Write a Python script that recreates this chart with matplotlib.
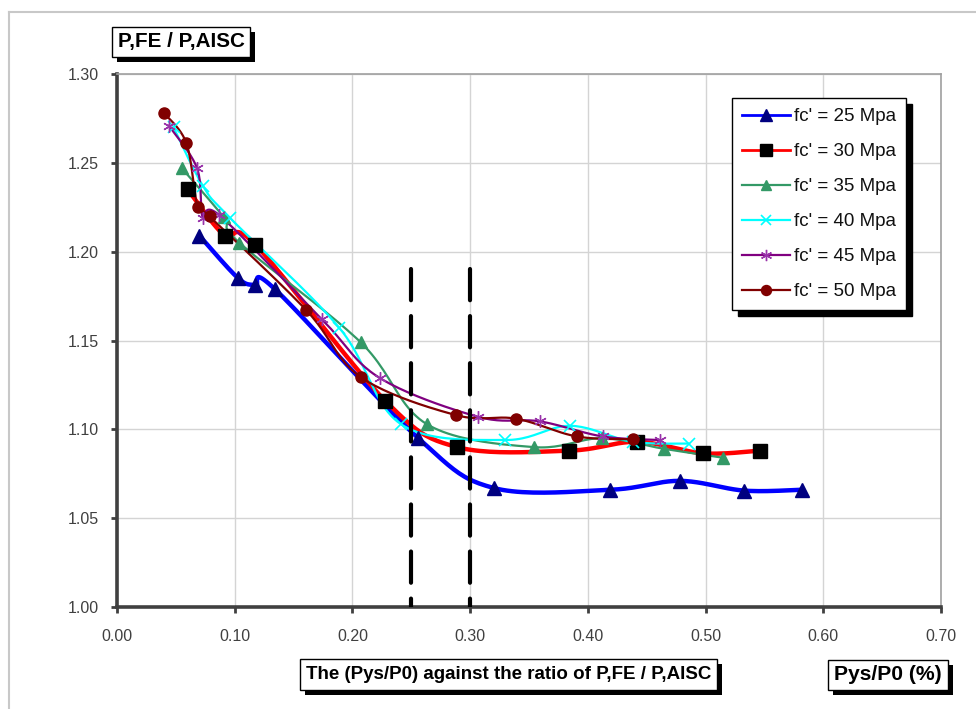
import numpy as np
import matplotlib
matplotlib.use("Agg")
import matplotlib.pyplot as plt
from matplotlib import font_manager
from matplotlib.lines import Line2D
from matplotlib.patches import Rectangle

# ---------------- data ----------------
x25 = [0.070, 0.103, 0.1175, 0.134, 0.256, 0.320, 0.419, 0.478, 0.533, 0.582]
y25 = [1.209, 1.185, 1.181, 1.179, 1.095, 1.067, 1.066, 1.071, 1.0655, 1.066]

x30 = [0.060, 0.0915, 0.1175, 0.228, 0.289, 0.384, 0.442, 0.498, 0.546]
y30 = [1.235, 1.209, 1.204, 1.116, 1.090, 1.088, 1.093, 1.0865, 1.088]

x35 = [0.055, 0.0905, 0.104, 0.207, 0.263, 0.354, 0.412, 0.465, 0.515]
y35 = [1.247, 1.2195, 1.205, 1.149, 1.103, 1.090, 1.095, 1.089, 1.084]

x40 = [0.048, 0.073, 0.096, 0.189, 0.241, 0.330, 0.385, 0.438, 0.486]
y40 = [1.270, 1.237, 1.219, 1.157, 1.103, 1.094, 1.102, 1.093, 1.092]

x45 = [0.044, 0.068, 0.073, 0.087, 0.174, 0.223, 0.307, 0.359, 0.4125, 0.461]
y45 = [1.271, 1.247, 1.219, 1.2205, 1.162, 1.129, 1.107, 1.1045, 1.096, 1.094]

x50 = [0.040, 0.059, 0.0685, 0.0786, 0.1606, 0.207, 0.288, 0.339, 0.3905, 0.438]
y50 = [1.278, 1.261, 1.2254, 1.2198, 1.1672, 1.1294, 1.108, 1.106, 1.096, 1.0944]

labels = ["fc' = 25 Mpa", "fc' = 30 Mpa", "fc' = 35 Mpa",
          "fc' = 40 Mpa", "fc' = 45 Mpa", "fc' = 50 Mpa"]

xticks = [0.0, 0.1, 0.2, 0.3, 0.4, 0.5, 0.6, 0.7]
yticks = [1.00, 1.05, 1.10, 1.15, 1.20, 1.25, 1.30]
limit_lines = [0.25, 0.30]
limit_top = 1.19

title_y = "P,FE / P,AISC"
caption = "The (Pys/P0) against the ratio of P,FE / P,AISC"
title_x = "Pys/P0 (%)"

# ---------------- styles ----------------
styles = [
    dict(color="#0000FF", lw=3.2, marker="^", ms=10, mfc="#000080", mec="#000080"),
    dict(color="#FF0000", lw=3.2, marker="s", ms=10, mfc="#000000", mec="#000000"),
    dict(color="#339966", lw=1.6, marker="^", ms=8, mfc="#339966", mec="#339966"),
    dict(color="#00FFFF", lw=1.6, marker="x", ms=8, mfc="none", mec="#00FFFF", mew=1.2),
    dict(color="#800080", lw=1.6, marker=(6, 2, 0), ms=9, mfc="none", mec="#9933AA", mew=1.0),
    dict(color="#800000", lw=1.6, marker="o", ms=8, mfc="#800000", mec="#800000"),
]

names = {f.name for f in font_manager.fontManager.ttflist}
base_font = "Liberation Sans" if "Liberation Sans" in names else "DejaVu Sans"
narrow_font = "Liberation Sans Narrow" if "Liberation Sans Narrow" in names else base_font
plt.rcParams["font.family"] = [base_font, "DejaVu Sans"]


def smooth(xs, ys, n=24):
    """Excel-style smoothed line (cubic Bezier through the points)."""
    pts = np.column_stack([xs, ys]).astype(float)
    P = np.vstack([pts[0], pts, pts[-1]])
    out = []
    t = np.linspace(0, 1, n)[:, None]
    for i in range(1, len(P) - 2):
        p0, p1, p2, p3 = P[i - 1], P[i], P[i + 1], P[i + 2]
        c1 = p1 + (p2 - p0) / 6.0
        c2 = p2 - (p3 - p1) / 6.0
        seg = ((1 - t) ** 3) * p1 + 3 * ((1 - t) ** 2) * t * c1 + 3 * (1 - t) * t ** 2 * c2 + t ** 3 * p2
        out.append(seg if i == 1 else seg[1:])
    s = np.vstack(out)
    return s[:, 0], s[:, 1]


W, H = 976, 709
fig = plt.figure(figsize=(W / 100, H / 100), dpi=100)
fig.patch.set_facecolor("white")

# axes placement (pixels)
ax_l, ax_r, ax_t, ax_b = 117, 941, 74, 607
ax = fig.add_axes([ax_l / W, 1 - ax_b / H, (ax_r - ax_l) / W, (ax_b - ax_t) / H])

series = [(x25, y25), (x30, y30), (x35, y35), (x40, y40), (x45, y45), (x50, y50)]
handles = []
for (xs, ys), st, lab in zip(series, styles, labels):
    sx, sy = smooth(xs, ys)
    ax.plot(sx, sy, color=st["color"], lw=st["lw"], solid_capstyle="round", zorder=3)
    ax.plot(xs, ys, ls="none", marker=st["marker"], ms=st["ms"], mfc=st["mfc"],
            mec=st["mec"], mew=st.get("mew", 1.0), zorder=4)
    handles.append(Line2D([0], [0], color=st["color"], lw=min(st["lw"], 2.0),
                          marker=st["marker"], ms=st["ms"] * 0.9, mfc=st["mfc"],
                          mec=st["mec"], mew=st.get("mew", 1.0)))

for xv in limit_lines:
    ax.plot([xv, xv], [limit_top, 1.0], color="black", lw=3.0,
            ls=(0, (7.5, 3.8)), dash_capstyle="round", zorder=5)

ax.set_xlim(0, 0.7)
ax.set_ylim(1.0, 1.3)
ax.set_xticks(xticks)
ax.set_yticks(yticks)
ax.set_xticklabels([f"{v:.2f}" for v in xticks])
ax.set_yticklabels([f"{v:.2f}" for v in yticks])
ax.grid(True, color="#D4D4D4", lw=1.0, zorder=0)
ax.set_axisbelow(True)
ax.tick_params(axis="both", direction="out", length=4, width=2, color="#404040",
               labelsize=11.5, labelcolor="#404040")
ax.tick_params(axis="y", pad=9)
ax.tick_params(axis="x", pad=12)
for side in ["left", "bottom"]:
    ax.spines[side].set_color("#404040")
    ax.spines[side].set_linewidth(2.6)
for side in ["top", "right"]:
    ax.spines[side].set_color("#A0A0A0")
    ax.spines[side].set_linewidth(1.2)

leg = ax.legend(handles, labels, loc="upper left",
                bbox_to_anchor=((732 - ax_l) / (ax_r - ax_l), (ax_b - 98) / (ax_b - ax_t)),
                fontsize=13.5, frameon=True, fancybox=False, edgecolor="black",
                framealpha=1, handlelength=2.55, handletextpad=0.2, labelspacing=0.95,
                borderpad=0.55, borderaxespad=0,
                shadow={"color": "black", "alpha": 1, "ox": 4, "oy": -4})
leg.get_frame().set_linewidth(1.0)
for t in leg.get_texts():
    t.set_color("#111111")

# outer chart border (light gray, left/top visible)
fig.add_artist(Line2D([9 / W, 9 / W], [0, 1 - 12 / H], color="#C8C8C8", lw=1.5))
fig.add_artist(Line2D([9 / W, 1.0], [1 - 12 / H, 1 - 12 / H], color="#C8C8C8", lw=1.5))

fig.canvas.draw()
renderer = fig.canvas.get_renderer()


def label_box(text, x0, y0, x1, y1, shadow=5):
    # shadow
    fig.add_artist(Rectangle(((x0 + shadow) / W, 1 - (y1 + shadow) / H),
                             (x1 - x0) / W, (y1 - y0) / H, transform=fig.transFigure,
                             facecolor="black", edgecolor="black", lw=0, zorder=10))
    fig.add_artist(Rectangle((x0 / W, 1 - y1 / H), (x1 - x0) / W, (y1 - y0) / H,
                             transform=fig.transFigure, facecolor="white",
                             edgecolor="black", lw=1.0, zorder=11))
    txt = fig.text((x0 + x1) / 2 / W, 1 - (y0 + y1) / 2 / H, text, ha="center", va="center",
                   fontsize=12, fontweight="bold", family=[narrow_font, base_font],
                   color="black", zorder=12)
    target = (x1 - x0) - 12
    w = txt.get_window_extent(renderer).width
    if w > 0:
        txt.set_fontsize(12 * target / w)
    return txt


label_box(title_y, 112, 27, 250, 57)
label_box(caption, 300, 659, 717, 690)
label_box(title_x, 828, 660, 948, 690)

fig.savefig("out.png", dpi=100, facecolor="white")
